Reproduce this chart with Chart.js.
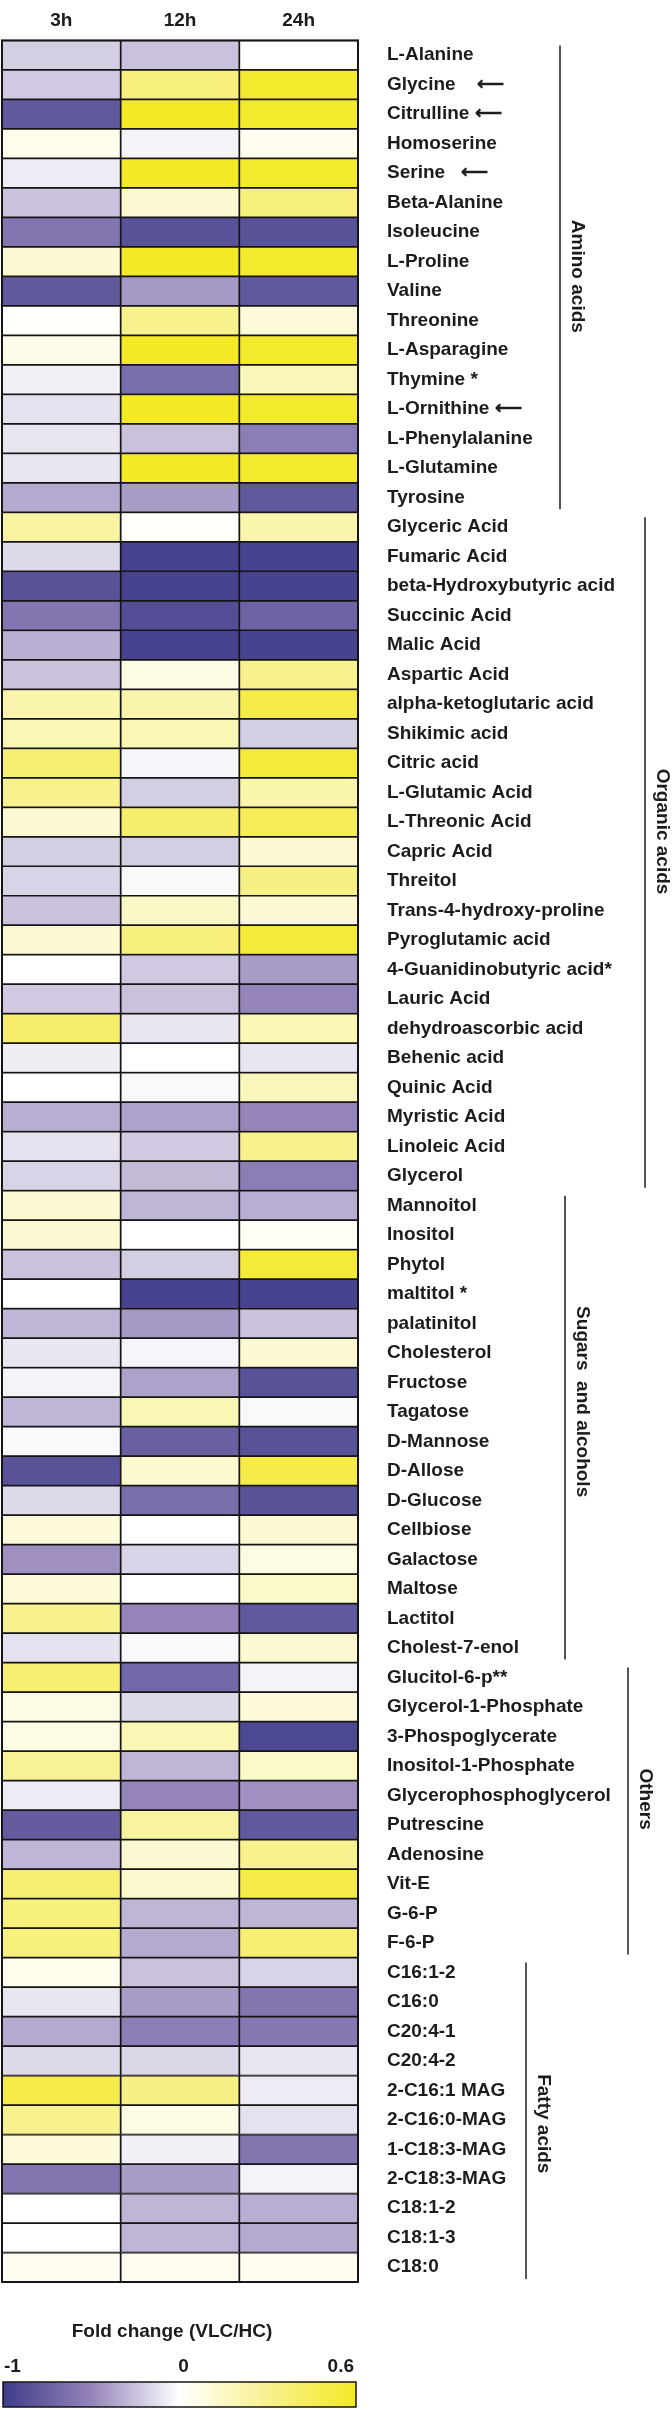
<!DOCTYPE html>
<html>
<head>
<meta charset="utf-8">
<script src="https://cdn.jsdelivr.net/npm/chart.js@4/dist/chart.umd.min.js"></script>
<style>
  body { margin: 0; background: #fff; }
  #wrap { position: relative; width: 672px; height: 2410px; }
</style>
</head>
<body>
<div id="wrap"><canvas id="heat"></canvas></div>
<script>
// metabolites, top to bottom
const metabolites = [
  'L-Alanine', 'Glycine    \u27f5', 'Citrulline \u27f5', 'Homoserine', 'Serine   \u27f5', 'Beta-Alanine',
  'Isoleucine', 'L-Proline', 'Valine', 'Threonine', 'L-Asparagine', 'Thymine *', 'L-Ornithine \u27f5',
  'L-Phenylalanine', 'L-Glutamine', 'Tyrosine',
  'Glyceric Acid', 'Fumaric Acid', 'beta-Hydroxybutyric acid', 'Succinic Acid', 'Malic Acid', 'Aspartic Acid',
  'alpha-ketoglutaric acid', 'Shikimic acid', 'Citric acid', 'L-Glutamic Acid', 'L-Threonic Acid', 'Capric Acid',
  'Threitol', 'Trans-4-hydroxy-proline', 'Pyroglutamic acid', '4-Guanidinobutyric acid*', 'Lauric Acid',
  'dehydroascorbic acid', 'Behenic acid', 'Quinic Acid', 'Myristic Acid', 'Linoleic Acid', 'Glycerol',
  'Mannoitol', 'Inositol', 'Phytol', 'maltitol *', 'palatinitol', 'Cholesterol', 'Fructose', 'Tagatose',
  'D-Mannose', 'D-Allose', 'D-Glucose', 'Cellbiose', 'Galactose', 'Maltose', 'Lactitol', 'Cholest-7-enol',
  'Glucitol-6-p**', 'Glycerol-1-Phosphate', '3-Phospoglycerate', 'Inositol-1-Phosphate', 'Glycerophosphoglycerol',
  'Putrescine', 'Adenosine', 'Vit-E', 'G-6-P', 'F-6-P',
  'C16:1-2', 'C16:0', 'C20:4-1', 'C20:4-2', '2-C16:1 MAG', '2-C16:0-MAG', '1-C18:3-MAG', '2-C18:3-MAG',
  'C18:1-2', 'C18:1-3', 'C18:0'
];

// fold change (VLC/HC)
const fc3h = [
  -0.2, -0.22, -0.8, 0.05, -0.08, -0.25, -0.6, 0.12, -0.8, 0.01, 0.06, -0.06, -0.12, -0.1, -0.1, -0.35,
  0.25, -0.15, -0.85, -0.6, -0.32, -0.25, 0.22, 0.2, 0.38, 0.3, 0.12, -0.2, -0.18, -0.25, 0.12, 0, -0.22, 0.4, -0.07, 0, -0.33, -0.12, -0.18,
  0.12, 0.12, -0.25, 0, -0.3, -0.1, -0.05, -0.3, -0.03, -0.85, -0.15, 0.1, -0.45, 0.1, 0.3, -0.12,
  0.38, 0.08, 0.08, 0.28, -0.08, -0.78, -0.3, 0.38, 0.35, 0.35,
  0.05, -0.1, -0.35, -0.15, 0.5, 0.3, 0.1, -0.6, 0, 0, 0.04
];
const fc12h = [
  -0.25, 0.35, 0.6, -0.05, 0.6, 0.12, -0.85, 0.6, -0.42, 0.3, 0.6, -0.65, 0.6, -0.25, 0.6, -0.4,
  0.01, -0.95, -0.95, -0.88, -0.95, 0.07, 0.22, 0.2, -0.04, -0.2, 0.4, -0.2, -0.03, 0.15, 0.35, -0.22, -0.25, -0.1, 0, -0.03, -0.38, -0.22, -0.28,
  -0.3, 0, -0.2, -0.95, -0.42, -0.04, -0.38, 0.2, -0.75, 0.13, -0.65, 0, -0.18, 0, -0.5, -0.03,
  -0.7, -0.15, 0.2, -0.3, -0.5, 0.25, 0.12, 0.13, -0.3, -0.35,
  -0.25, -0.4, -0.55, -0.17, 0.33, 0.07, -0.06, -0.4, -0.3, -0.3, 0.04
];
const fc24h = [
  0, 0.58, 0.58, 0.04, 0.58, 0.35, -0.85, 0.58, -0.8, 0.1, 0.58, 0.18, 0.58, -0.55, 0.58, -0.8,
  0.22, -0.95, -0.95, -0.72, -0.95, 0.3, 0.5, -0.2, 0.55, 0.22, 0.45, 0.12, 0.32, 0.12, 0.55, -0.4, -0.5, 0.2, -0.1, 0.18, -0.5, 0.3, -0.55,
  -0.33, 0.02, 0.55, -0.95, -0.25, 0.12, -0.85, -0.03, -0.85, 0.5, -0.85, 0.12, 0.08, 0.14, -0.8, 0.12,
  -0.05, 0.1, -0.92, 0.14, -0.45, -0.8, 0.3, 0.5, -0.3, 0.38,
  -0.18, -0.6, -0.58, -0.1, -0.08, -0.12, -0.6, -0.05, -0.33, -0.35, 0.04
];

const timeLabels = ['3h', '12h', '24h'];
const groupNames = ['Amino acids', 'Organic acids', 'Sugars  and alcohols', 'Others', 'Fatty acids'];
const groupSizes = [16, 23, 16, 10, 11];
const legendTitle = 'Fold change (VLC/HC)';
const legendTicks = [-1, 0, 0.6];

// layout bits (not data)
const groupLineX = [560, 645, 565, 628, 526];
const groupTextShift = [0, -20, -25, -11, 4];
const FONT = '"Liberation Sans", Arial, sans-serif';
const INK = '#1c1c1c';
const EDGE = '#161414';

const stops = [
  [-1, [62, 60, 138]],
  [-0.5, [148, 132, 186]],
  [0, [255, 255, 255]],
  [0.3, [247, 241, 142]],
  [0.6, [244, 233, 38]]
];

function colorFor(v) {
  if (v <= stops[0][0]) return 'rgb(' + stops[0][1].join(',') + ')';
  for (let i = 1; i < stops.length; i++) {
    if (v <= stops[i][0]) {
      const a = stops[i - 1], b = stops[i];
      const t = (v - a[0]) / (b[0] - a[0]);
      const c = a[1].map((x, k) => Math.round(x + (b[1][k] - x) * t));
      return 'rgb(' + c.join(',') + ')';
    }
  }
  return 'rgb(' + stops[stops.length - 1][1].join(',') + ')';
}

// colour bar puts 0 in the middle
function barPos(v) {
  return v < 0 ? 0.5 * (v + 1) : 0.5 + 0.5 * v / 0.6;
}

const series = [fc3h, fc12h, fc24h];

const extras = {
  id: 'extras',
  afterDatasetsDraw(chart) {
    const ctx = chart.ctx, a = chart.chartArea;
    ctx.save();
    ctx.strokeStyle = EDGE;
    ctx.lineWidth = 2;
    ctx.strokeRect(a.left, a.top, a.right - a.left, a.bottom - a.top);
    ctx.restore();
  },
  afterDraw(chart) {
    const ctx = chart.ctx;
    const y = chart.scales.y;
    const rowH = y.getPixelForValue(1) - y.getPixelForValue(0);
    ctx.save();
    ctx.strokeStyle = INK;
    ctx.fillStyle = INK;
    ctx.lineWidth = 1.5;
    ctx.font = 'bold 19px ' + FONT;
    let start = 0;
    groupSizes.forEach((n, g) => {
      const top = y.getPixelForValue(start) - rowH / 2;
      const bot = y.getPixelForValue(start + n - 1) + rowH / 2;
      const x = groupLineX[g];
      ctx.beginPath();
      ctx.moveTo(x, top + 5);
      ctx.lineTo(x, bot - 3);
      ctx.stroke();
      ctx.save();
      ctx.translate(x + 17, (top + bot) / 2 + groupTextShift[g]);
      ctx.rotate(Math.PI / 2);
      ctx.textAlign = 'center';
      ctx.textBaseline = 'middle';
      ctx.fillText(groupNames[g], 0, 0);
      ctx.restore();
      start += n;
    });

    // colour legend
    const bx0 = 3, bx1 = 356, by0 = 2382, by1 = 2407;
    ctx.textBaseline = 'middle';
    ctx.textAlign = 'center';
    ctx.fillText(legendTitle, 172, 2332);
    legendTicks.forEach((t, i) => {
      const px = bx0 + barPos(t) * (bx1 - bx0);
      ctx.textAlign = i === 0 ? 'left' : (i === legendTicks.length - 1 ? 'right' : 'center');
      ctx.fillText(String(t), i === 0 ? bx0 + 1 : (i === legendTicks.length - 1 ? bx1 - 2 : px + 4), 2367);
    });
    const grad = ctx.createLinearGradient(bx0, 0, bx1, 0);
    stops.forEach(s => grad.addColorStop(barPos(s[0]), 'rgb(' + s[1].join(',') + ')'));
    ctx.fillStyle = grad;
    ctx.fillRect(bx0, by0, bx1 - bx0, by1 - by0);
    ctx.strokeStyle = EDGE;
    ctx.lineWidth = 1.5;
    ctx.strokeRect(bx0, by0, bx1 - bx0, by1 - by0);
    ctx.restore();
  }
};

new Chart(document.getElementById('heat'), {
  type: 'bar',
  data: {
    labels: metabolites,
    datasets: series.map((vals, j) => ({
      label: timeLabels[j],
      data: vals.map(() => [j, j + 1]),
      backgroundColor: vals.map(colorFor),
      borderColor: EDGE,
      borderWidth: 1.2,
      borderSkipped: false,
      barPercentage: 1,
      categoryPercentage: 1,
      grouped: false,
      xAxisID: 'x'
    }))
  },
  options: {
    indexAxis: 'y',
    responsive: true,
    maintainAspectRatio: false,
    animation: false,
    layout: { padding: { top: 0, left: 2, right: 0, bottom: 128 } },
    plugins: { legend: { display: false }, tooltip: { enabled: false } },
    scales: {
      x: { type: 'linear', min: 0, max: 3, display: false },
      xTop: {
        type: 'category',
        labels: timeLabels,
        position: 'top',
        offset: true,
        grid: { display: false, drawTicks: false },
        border: { display: false },
        ticks: { color: INK, padding: 8, font: { family: FONT, size: 19, weight: 'bold' } },
        afterFit: s => { s.height = 30; }
      },
      y: {
        type: 'category',
        position: 'right',
        grid: { display: false, drawTicks: false },
        border: { display: false },
        ticks: { autoSkip: false, color: INK, padding: 29, font: { family: FONT, size: 19, weight: 'bold' } },
        afterFit: s => { s.width = 314; }
      }
    }
  },
  plugins: [extras]
});
</script>
</body>
</html>
